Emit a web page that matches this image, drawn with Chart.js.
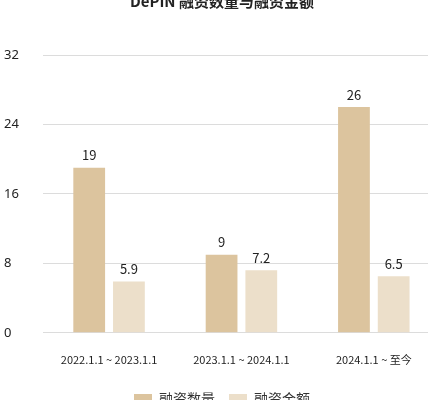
<!DOCTYPE html>
<html lang="zh">
<head>
  <meta charset="UTF-8">
  <title>DePIN 融资数量与融资金额</title>
  <script src="https://cdn.jsdelivr.net/npm/chart.js"></script>
  <style>
    html, body { margin: 0; padding: 0; overflow: hidden; background: #fff; }
    #wrap { position: relative; width: 440px; height: 430px; margin-top: -14px; }
  </style>
</head>
<body>
  <div id="wrap"><canvas id="chart"></canvas></div>
  <script>
    const categories = ['2022.1.1 ~ 2023.1.1', '2023.1.1 ~ 2024.1.1', '2024.1.1 ~ 至今'];
    const countValues = [19, 9, 26];
    const amountValues = [5.9, 7.2, 6.5];
    const yTicks = [0, 8, 16, 24, 32];

    // draw the number above each bar
    const valueLabels = {
      id: 'valueLabels',
      afterDatasetsDraw(chart) {
        const ctx = chart.ctx;
        ctx.save();
        ctx.fillStyle = '#222';
        ctx.font = '13px "Noto Sans CJK SC", sans-serif';
        ctx.textAlign = 'center';
        ctx.textBaseline = 'bottom';
        chart.data.datasets.forEach((ds, i) => {
          chart.getDatasetMeta(i).data.forEach((bar, j) => {
            ctx.fillText(ds.data[j], bar.x, bar.y - 6);
          });
        });
        ctx.restore();
      }
    };

    new Chart(document.getElementById('chart'), {
      type: 'bar',
      data: {
        labels: categories,
        datasets: [
          { label: '融资数量', data: countValues, backgroundColor: '#dcc49e' },
          { label: '融资金额', data: amountValues, backgroundColor: '#ecdfca' }
        ]
      },
      options: {
        responsive: true,
        maintainAspectRatio: false,
        animation: false,
        categoryPercentage: 0.6,
        barPercentage: 0.8,
        layout: { padding: { left: 4, right: 0, top: 0, bottom: 0 } },
        plugins: {
          title: {
            display: true,
            text: 'DePIN 融资数量与融资金额',
            color: '#222',
            font: { size: 15, weight: 'bold', family: '"Noto Sans CJK SC", sans-serif' },
            padding: { top: 6, bottom: 45 }
          },
          legend: {
            position: 'bottom',
            labels: {
              color: '#333',
              boxWidth: 18,
              boxHeight: 10,
              padding: 14,
              font: { size: 14, family: '"Noto Sans CJK SC", sans-serif' }
            }
          },
          tooltip: { enabled: false }
        },
        scales: {
          x: {
            grid: { display: false },
            border: { display: false },
            ticks: { color: '#222', padding: 12, font: { size: 11, family: '"Noto Sans CJK SC", sans-serif' } }
          },
          y: {
            min: 0,
            max: 32,
            afterBuildTicks(axis) { axis.ticks = yTicks.map(v => ({ value: v })); },
            grid: { color: '#dcdcdc', drawTicks: false },
            border: { display: false },
            ticks: {
              color: '#222',
              crossAlign: 'far',
              padding: 12,
              font: { size: 13, family: '"Noto Sans", sans-serif' }
            }
          }
        }
      },
      plugins: [valueLabels]
    });
  </script>
</body>
</html>
